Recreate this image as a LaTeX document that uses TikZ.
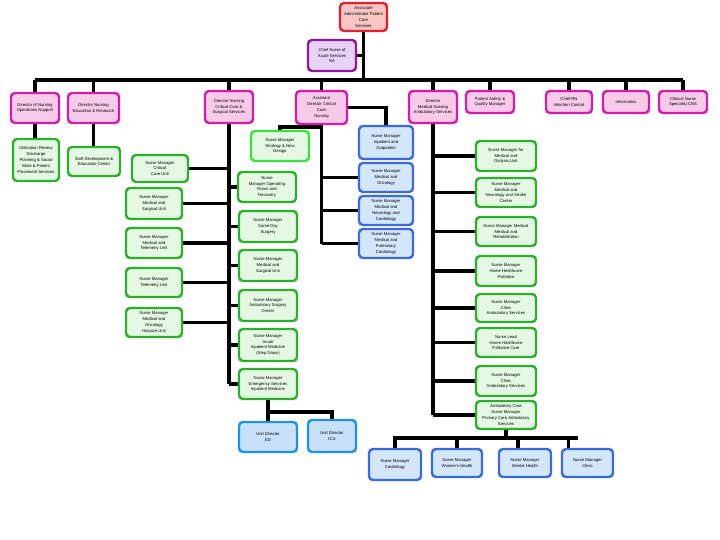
\documentclass[tikz,border=0pt]{standalone}
\usepackage{fontspec}
\setmainfont{Liberation Sans}
\usetikzlibrary{calc}
\pgfdeclarelayer{back}
\pgfdeclarelayer{bg}
\pgfsetlayers{back,bg,main}
\definecolor{redB}{HTML}{E0202E}\definecolor{redF}{HTML}{F8C4C4}
\definecolor{purB}{HTML}{8A1A9A}\definecolor{purF}{HTML}{E8D2F8}
\definecolor{pinkB}{HTML}{D41CA8}\definecolor{pinkF}{HTML}{F8CAEA}
\definecolor{grnB}{HTML}{2CB02C}\definecolor{grnF}{HTML}{E4F8E4}
\definecolor{grnB2}{HTML}{3CE03C}
\definecolor{bluB}{HTML}{3A6AE0}\definecolor{bluF}{HTML}{D4E6FA}
\definecolor{lbluB}{HTML}{2092E6}\definecolor{lbluF}{HTML}{C8E0F8}
\tikzset{
  bxbase/.style={draw, rounded corners=4pt, line width=2.4pt, align=center, inner sep=1pt,
    font=\fontsize{4.2}{5.8}\selectfont, text=black},
  redbox/.style={bxbase, draw=redB, fill=redF},
  purbox/.style={bxbase, draw=purB, fill=purF},
  pinkbox/.style={bxbase, draw=pinkB, fill=pinkF},
  grnbox/.style={bxbase, draw=grnB, fill=grnF},
  grnbox2/.style={bxbase, draw=grnB2, fill=grnF},
  blubox/.style={bxbase, draw=bluB, fill=bluF},
  lblubox/.style={bxbase, draw=lbluB, fill=lbluF},
  conn/.style={draw=black, line width=3.6pt},
}
\newcommand\bx[7]{\node[#6, minimum width={#4-#2-2}, minimum height={#5-#3-2}] (#1) at ({(#2+#4)/2},{(#3+#5)/2}) {#7};}
\begin{document}
\begin{tikzpicture}[x=1pt,y=-1pt]
\begin{pgfonlayer}{back}
\fill[white] (0,0) rectangle (720,540);
\end{pgfonlayer}
\useasboundingbox (0,0) rectangle (720,540);
% level 0
\bx{red}{339}{2}{388}{32}{redbox}{Associate\\Administrator Patient\\Care\\Services}
\bx{pur}{307}{39}{357}{72}{purbox}{Chief Nurse of\\Acute Services\\NA}
% level 1
\bx{A}{10}{92}{60}{124}{pinkbox}{Director of Nursing\\Operations Support}
\bx{B}{67}{92}{120}{124}{pinkbox}{Director Nursing\\Education \& Research}
\bx{C}{204}{90}{254}{124}{pinkbox}{Director Nursing\\Critical Care \&\\Surgical Services}
\bx{D}{295}{90}{348}{125}{pinkbox}{Assistant\\Director Critical\\Care\\Nursing}
\bx{E}{408}{90}{458}{124}{pinkbox}{Director\\Medical Nursing\\Ambulatory Services}
\bx{F}{465}{90}{515}{114}{pinkbox}{Patient Safety \&\\Quality Manager}
\bx{G}{545}{90}{593}{114}{pinkbox}{Chief RN\\Infection Control}
\bx{H}{602}{90}{650}{114}{pinkbox}{Informatics}
\bx{I}{658}{90}{708}{114}{pinkbox}{Clinical Nurse\\Specialist CNS}
% A, B children
\bx{Ach}{12}{138}{60}{182}{grnbox}{Utilization Review\\Discharge\\Planning \& Social\\Work \& Patient\\Placement Services}
\bx{Bch}{67}{146}{121}{177}{grnbox}{Staff Development \&\\Education Center}
% C children left
\bx{L1}{131}{154}{189}{183}{grnbox}{Nurse Manager\\Critical\\Care Unit}
\bx{L2}{125}{187}{183}{220}{grnbox}{Nurse Manager\\Medical and\\Surgical Unit}
\bx{L3}{125}{227}{183}{259}{grnbox}{Nurse Manager\\Medical and\\Telemetry Unit}
\bx{L4}{125}{267}{183}{298}{grnbox}{Nurse Manager\\Telemetry Unit}
\bx{L5}{125}{307}{183}{338}{grnbox}{Nurse Manager\\Medical and\\Oncology\\Hospice Unit}
% C children right
\bx{R1}{237}{171}{297}{203}{grnbox}{Nurse\\Manager Operating\\Room and\\Recovery}
\bx{R2}{238}{210}{298}{243}{grnbox}{Nurse Manager\\Same Day\\Surgery}
\bx{R3}{238}{249}{298}{282}{grnbox}{Nurse Manager\\Medical and\\Surgical Unit}
\bx{R4}{238}{289}{298}{322}{grnbox}{Nurse Manager\\Ambulatory Surgery\\Center}
\bx{R5}{238}{328}{298}{362}{grnbox}{Nurse Manager\\Acute\\Inpatient Medicine\\(Step Down)}
\bx{R6}{238}{368}{298}{400}{grnbox}{Nurse Manager\\Emergency Services\\Inpatient Medicine}
\bx{bl1}{238}{421}{298}{453}{lblubox}{Unit Director\\ED}
\bx{bl2}{307}{419}{357}{453}{lblubox}{Unit Director\\ICU}
% D children
\bx{Dg}{250}{130}{310}{162}{grnbox2}{Nurse Manager\\Strategy \& New\\Design}
\bx{B1}{358}{125}{414}{160}{blubox}{Nurse Manager\\Inpatient and\\Outpatient}
\bx{B2}{358}{162}{414}{193}{blubox}{Nurse Manager\\Medical and\\Oncology}
\bx{B3}{358}{195}{414}{226}{blubox}{Nurse Manager\\Medical and\\Neurology and\\Cardiology}
\bx{B4}{358}{228}{414}{259}{blubox}{Nurse Manager\\Medical and\\Pulmonary\\Cardiology}
% E children
\bx{G1}{475}{140}{537}{172}{grnbox}{Nurse Manager for\\Medical and\\Dialysis Unit}
\bx{G2}{475}{177}{537}{208}{grnbox}{Nurse Manager\\Medical and\\Neurology and Stroke\\Center}
\bx{G3}{475}{216}{537}{247}{grnbox}{Nurse Manager Medical\\Medical and\\Rehabilitation}
\bx{G4}{475}{255}{537}{287}{grnbox}{Nurse Manager\\Home Healthcare\\Palliative}
\bx{G5}{475}{293}{537}{323}{grnbox}{Nurse Manager\\Clinic\\Ambulatory Services}
\bx{G6}{475}{327}{537}{358}{grnbox}{Nurse Lead\\Home Healthcare\\Palliative Care}
\bx{G7}{475}{365}{537}{397}{grnbox}{Nurse Manager\\Clinic\\Ambulatory Services}
\bx{G8}{475}{400}{537}{430}{grnbox}{Ambulatory Care\\Nurse Manager\\Primary Care Ambulatory\\Services}
\bx{Bb1}{368}{448}{422}{481}{blubox}{Nurse Manager\\Cardiology}
\bx{Bb2}{431}{448}{483}{478}{blubox}{Nurse Manager\\Women's Health}
\bx{Bb3}{498}{448}{552}{478}{blubox}{Nurse Manager\\Mental Health}
\bx{Bb4}{561}{448}{614}{478}{blubox}{Nurse Manager\\Clinic}
% connectors
\coordinate (bus) at (362,80);
\coordinate (bbL) at (393,438);
\coordinate (bbR) at (578,438);
\begin{pgfonlayer}{bg}
\draw[conn] (red.south) -- (red.south |- bus);
\draw[conn] (pur.east) -- (pur.east -| red.south);
\draw[conn] (A.north |- bus) -- (I.north |- bus);
\foreach \n in {A,B,C,D,E,F,G,H,I} \draw[conn] (\n.north) -- (\n.north |- bus);
\draw[conn] (A.south) -- (A.south |- Ach.north);
\draw[conn] (B.south) -- (B.south |- Bch.north);
% C trunk
\draw[conn] (C.south) -- (C.south |- R6.west);
\foreach \n in {L1,L2,L3,L4,L5} \draw[conn] (\n.east) -- (\n.east -| C.south);
\foreach \n in {R1,R2,R3,R4,R5,R6} \draw[conn] (\n.west) -- (\n.west -| C.south);
\draw[conn] (R6.south) -- (R6.south |- bl1.north);
\draw[conn] (bl2.north) -- ++(0,-7) -| (R6.south);
% D trunk
\draw[conn] (D.south) -- (D.south |- B4.west);
\foreach \n in {B2,B3,B4} \draw[conn] (\n.west) -- (\n.west -| D.south);
\draw[conn] (Dg.north) -- ++(0,-3) -| (D.south);
\draw[conn] (D.east) -| (B1.north);
% E trunk
\draw[conn] (E.south) -- (E.south |- G8.west);
\foreach \n in {G1,G2,G3,G4,G5,G6,G7,G8} \draw[conn] (\n.west) -- (\n.west -| E.south);
\draw[conn] (G8.south) -- (G8.south |- bbL);
\draw[conn] (bbL) -- (bbR);
\draw[conn] (Bb1.north) -- (Bb1.north |- bbL);
\draw[conn] (Bb2.north) -- (Bb2.north |- bbL);
\draw[conn] ([xshift=-7pt]Bb3.north) -- ([xshift=-7pt]Bb3.north |- bbL);
\draw[conn] ([xshift=-19pt]Bb4.north) -- ([xshift=-19pt]Bb4.north |- bbL);
\end{pgfonlayer}
\end{tikzpicture}
\end{document}
